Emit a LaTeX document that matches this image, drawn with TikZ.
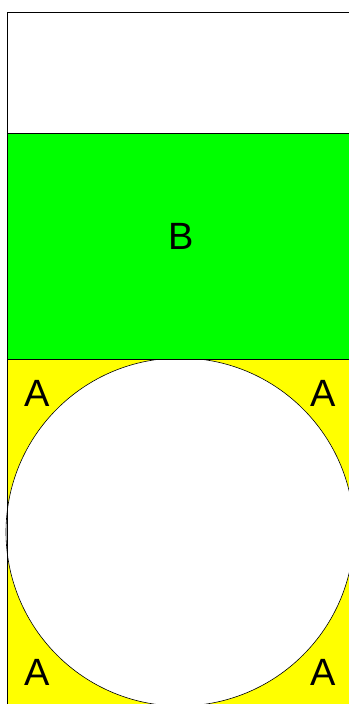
\documentclass[tikz,border=0pt]{standalone}
\usepackage{fontspec}
\setmainfont{Liberation Sans}
\definecolor{boxgreen}{RGB}{0,255,0}
\definecolor{boxyellow}{RGB}{255,255,0}

\begin{document}
\begin{tikzpicture}[x=1pt, y=-1pt, line width=0.8pt]
\useasboundingbox (0,0) rectangle (348,704);
\tikzset{letter/.style={font=\fontsize{38}{38}\selectfont}}

% lower part: yellow with the white circle
\fill[boxyellow] (7,359) rectangle (360,710);
\filldraw[fill=white, draw=black, line width=0.6pt] (180,532) circle (174);

% middle part: green
\fill[boxgreen] (7,133) rectangle (360,359);
\draw (7,133) -- (360,133);
\draw[line width=0.6pt] (7,359) -- (360,359);

% frame
\draw (7,12) -- (360,12);
\draw (7,12) -- (7,710);

\node[letter] (labelB) at (181,236) {B};
\node[letter] (cornerNW) at (37,393) {A};
\node[letter] (cornerNE) at (323,393) {A};
\node[letter] (cornerSW) at (37,672) {A};
\node[letter] (cornerSE) at (323,672) {A};
\end{tikzpicture}
\end{document}
